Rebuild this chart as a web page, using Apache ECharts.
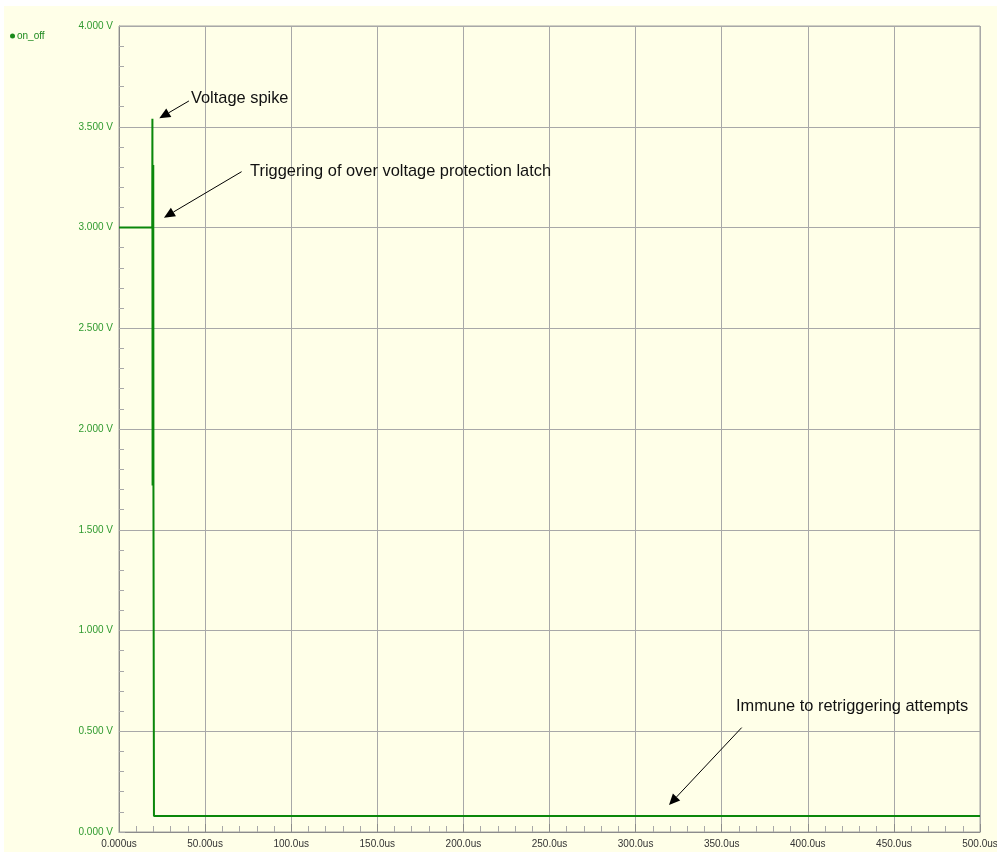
<!DOCTYPE html>
<html>
<head>
<meta charset="utf-8">
<script src="https://cdn.jsdelivr.net/npm/echarts@6/dist/echarts.min.js"></script>
<style>
  html, body { margin: 0; padding: 0; background: #ffffff; overflow: hidden; }
  #chart { position: absolute; left: 4px; top: 6px; width: 993px; height: 846px; background: #FFFFE8; }
</style>
</head>
<body>
<div id="chart"></div>
<script>
// Time axis in microseconds, voltage in volts
const timeUs   = [0, 19.3, 19.4, 19.5, 19.9, 20.0, 20.3, 500];
const onOffV   = [3.0, 3.0, 3.54, 1.72, 3.31, 1.72, 0.08, 0.08];

const xTicks = [0, 50, 100, 150, 200, 250, 300, 350, 400, 450, 500];
const xTickLabels = ['0.000us', '50.00us', '100.0us', '150.0us', '200.0us', '250.0us',
                     '300.0us', '350.0us', '400.0us', '450.0us', '500.0us'];
const yTicks = [0, 0.5, 1, 1.5, 2, 2.5, 3, 3.5, 4];
const yTickLabels = ['0.000 V', '0.500 V', '1.000 V', '1.500 V', '2.000 V',
                     '2.500 V', '3.000 V', '3.500 V', '4.000 V'];

// Callouts: text anchor, arrow tail and arrow head, in (us, V)
const noteTexts = ['Voltage spike', 'Triggering of over voltage protection latch', 'Immune to retriggering attempts'];
const noteTextAt = [[41.8, 3.638], [76.1, 3.280], [358.3, 0.622]];
const noteTail   = [[40.6, 3.628], [71.2, 3.277], [361.6, 0.518]];
const noteHead   = [[23.4, 3.542], [26.1, 3.049], [319.4, 0.134]];

const el = document.getElementById('chart');
const chart = echarts.init(el, null, { width: 993, height: 846 });

const option = {
  animation: false,
  backgroundColor: '#FFFFE8',
  legend: {
    data: ['on_off'],
    left: 1, top: 20,
    icon: 'circle', itemWidth: 5, itemHeight: 5, itemGap: 2,
    textStyle: { color: '#1f8a1f', fontFamily: 'Liberation Sans', fontSize: 10, padding: [0, 0, 0, -3] }
  },
  grid: {
    left: 115, right: 17, top: 20, bottom: 20,
    outerBoundsMode: 'none',
    show: true, borderColor: '#a0a0a0', borderWidth: 1, backgroundColor: 'transparent'
  },
  xAxis: {
    type: 'value', min: 0, max: 500, interval: 50,
    axisLine: { show: true, lineStyle: { color: '#8c8c8c', width: 1 } },
    axisTick: { show: true, inside: true, length: 8, lineStyle: { color: '#8c8c8c' } },
    minorTick: { show: true, splitNumber: 5, length: 6, lineStyle: { color: '#a8a8a8' } },
    splitLine: { show: true, lineStyle: { color: '#a8a8a8', width: 1 } },
    axisLabel: {
      color: '#333333', fontFamily: 'Liberation Sans', fontSize: 10, margin: 7,
      formatter: v => xTickLabels[xTicks.indexOf(v)]
    }
  },
  yAxis: {
    type: 'value', min: 0, max: 4, interval: 0.5,
    axisLine: { show: true, lineStyle: { color: '#8c8c8c', width: 1 } },
    axisTick: { show: true, inside: true, length: 6, lineStyle: { color: '#a8a8a8' } },
    minorTick: { show: true, splitNumber: 5, length: 5, lineStyle: { color: '#a8a8a8' } },
    splitLine: { show: true, lineStyle: { color: '#a8a8a8', width: 1 } },
    axisLabel: {
      color: '#2f9a2f', fontFamily: 'Liberation Sans', fontSize: 10, margin: 6,
      formatter: v => yTickLabels[yTicks.indexOf(v)]
    }
  },
  series: [{
    name: 'on_off', type: 'line', showSymbol: false, symbol: 'circle',
    color: '#1a8a1a',
    lineStyle: { color: '#0a870a', width: 2 },
    data: timeUs.map((t, i) => [t, onOffV[i]])
  }]
};
chart.setOption(option);

// Callout text and arrows, placed through the chart's own coordinate conversion
function buildNotes() {
  const els = [];
  noteTexts.forEach((txt, i) => {
    const tp = chart.convertToPixel({ gridIndex: 0 }, noteTextAt[i]);
    const a = chart.convertToPixel({ gridIndex: 0 }, noteTail[i]);
    const b = chart.convertToPixel({ gridIndex: 0 }, noteHead[i]);
    els.push({
      type: 'text', x: tp[0], y: tp[1],
      style: { text: txt, fill: '#111111', font: '16.4px "Liberation Sans"', verticalAlign: 'middle', align: 'left' }
    });
    const dx = b[0] - a[0], dy = b[1] - a[1];
    const len = Math.sqrt(dx * dx + dy * dy);
    const ux = dx / len, uy = dy / len;
    const hl = 11, hw = 5;
    const bx = b[0] - ux * hl, by = b[1] - uy * hl;
    els.push({
      type: 'line',
      shape: { x1: a[0], y1: a[1], x2: bx, y2: by },
      style: { stroke: '#000000', lineWidth: 1 }
    });
    els.push({
      type: 'polygon',
      shape: { points: [[b[0], b[1]], [bx - uy * hw, by + ux * hw], [bx + uy * hw, by - ux * hw]] },
      style: { fill: '#000000' }
    });
  });
  chart.setOption({ graphic: els });
}
buildNotes();
</script>
</body>
</html>
